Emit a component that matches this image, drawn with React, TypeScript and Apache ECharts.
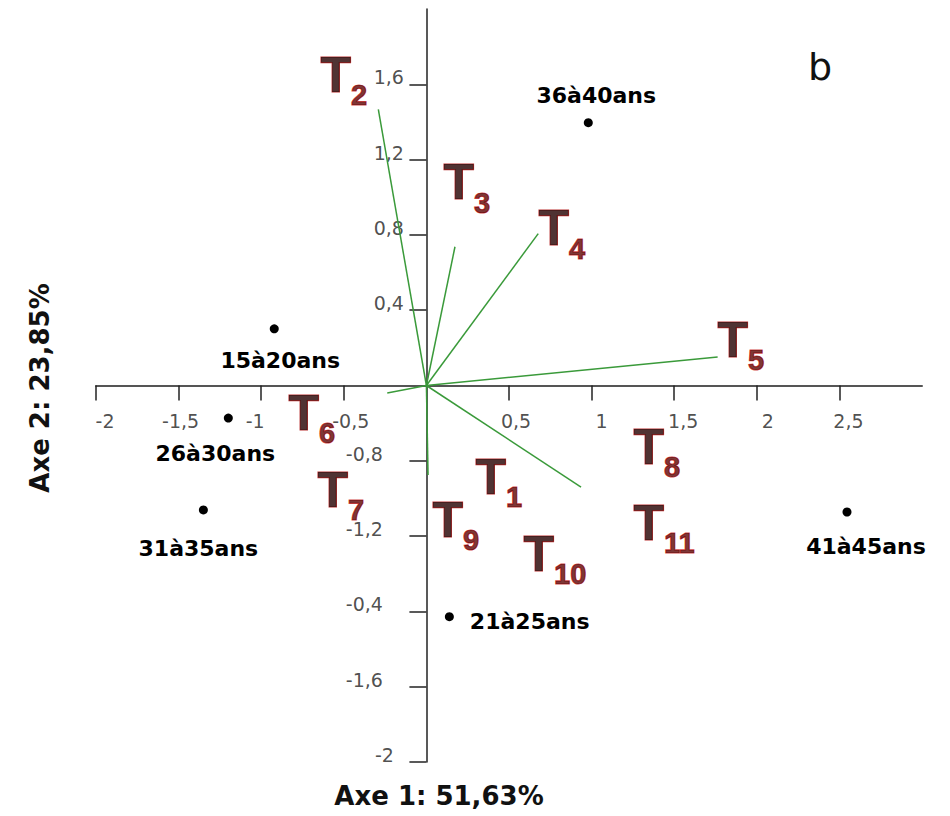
import React, { useEffect, useRef } from "react";
import * as echarts from "echarts";

// ---- axis ticks ----
const xTickValues = [-2, -1.5, -1, -0.5, 0.5, 1, 1.5, 2, 2.5];
const xTickLabels = ["-2", "-1,5", "-1", "-0,5", "0,5", "1", "1,5", "2", "2,5"];
const yTickValues = [-2, -1.6, -1.2, -0.8, -0.4, 0.4, 0.8, 1.2, 1.6];
const yTickLabels = ["-2", "-1,6", "-0,4", "-1,2", "-0,8", "0,4", "0,8", "1,2", "1,6"];

// ---- age groups (points) ----
const groupNames = ["15à20ans", "21à25ans", "26à30ans", "31à35ans", "36à40ans", "41à45ans"];
const groupX = [-0.921, 0.139, -1.199, -1.35, 0.98, 2.546];
const groupY = [0.301, -1.228, -0.173, -0.661, 1.396, -0.672];

// ---- variable vectors ----
const vectorX = [-0.291, 0.173, 0.677, 1.763, 0.936, 0.01, -0.237];
const vectorY = [1.467, 0.737, 0.807, 0.152, -0.54, -0.475, -0.04];

// ---- T labels ----
const termNumbers = ["1", "2", "3", "4", "5", "6", "7", "8", "9", "10", "11"];
const termX = [0.294, -0.644, 0.1, 0.676, 1.759, -0.838, -0.662, 1.251, 0.034, 0.585, 1.251];
const termY = [-0.485, 1.651, 1.079, 0.836, 0.244, -0.145, -0.554, -0.325, -0.714, -0.895, -0.73];

// ---- styling (label placement) ----
const groupLabelPlacement: any[] = [
  { position: "inside", offset: [6, 32] },
  { position: "right", distance: 16, offset: [0, 5] },
  { position: "inside", offset: [-13, 35] },
  { position: "inside", offset: [-5, 39] },
  { position: "inside", offset: [8, -27] },
  { position: "inside", offset: [19, 34] },
];
const xLabelDx = [9, 2, -6, 7, 7, 10, 9, 11, 9];
const yLabelDx = [-10, -21, -21, -21, -21, 0, 0, 0, 0];

const tickFont = { fontFamily: "DejaVu Sans", fontSize: 19, color: "#222" };

export default function App() {
  const ref = useRef<HTMLDivElement>(null);
  useEffect(() => {
    if (!ref.current) return;
    const chart = echarts.init(ref.current, undefined, { renderer: "svg" });
    const option: any = {
      animation: false,
      backgroundColor: "#fff",
      grid: { left: 96, right: 28, top: 9, bottom: 54, outerBoundsMode: "none" },
      xAxis: {
        type: "value",
        min: -2,
        max: 3,
        interval: 0.5,
        splitLine: { show: false },
        axisLine: { onZero: true, lineStyle: { color: "#555", width: 2 } },
        axisTick: { show: true, length: 15, customValues: xTickValues, lineStyle: { color: "#222", width: 1.5 } },
        axisLabel: { show: false },
      },
      yAxis: {
        type: "value",
        min: -2,
        max: 2,
        interval: 0.4,
        splitLine: { show: false },
        axisLine: { onZero: true, lineStyle: { color: "#222", width: 1.5 } },
        axisTick: { show: true, length: 17, customValues: yTickValues, lineStyle: { color: "#222", width: 1.5 } },
        axisLabel: { show: false },
      },
      series: [
        {
          type: "scatter",
          silent: true,
          z: 2,
          symbolSize: 1,
          itemStyle: { color: "rgba(0,0,0,0)" },
          data: xTickValues.map((v, i) => ({
            value: [v, 0],
            name: xTickLabels[i],
            label: { offset: [xLabelDx[i], 35] },
          })),
          label: {
            show: true,
            position: "inside",
            formatter: (p: any) => p.name,
            ...tickFont,
          },
        },
        {
          type: "scatter",
          silent: true,
          z: 2,
          symbolSize: 1,
          itemStyle: { color: "rgba(0,0,0,0)" },
          data: yTickValues.map((v, i) => ({
            value: [0, v],
            name: yTickLabels[i],
            label: { offset: [yLabelDx[i], -7] },
          })),
          label: {
            show: true,
            position: "left",
            distance: 22,
            formatter: (p: any) => p.name,
            ...tickFont,
          },
        },
        {
          type: "lines",
          coordinateSystem: "cartesian2d",
          silent: true,
          z: 3,
          lineStyle: { color: "#3a9a3a", width: 1.5, opacity: 1 },
          data: vectorX.map((x, i) => ({ coords: [[0, 0], [x, vectorY[i]]] })),
        },
        {
          type: "scatter",
          silent: true,
          z: 4,
          symbolSize: 9,
          itemStyle: { color: "#000", opacity: 1 },
          data: groupX.map((x, i) => ({
            value: [x, groupY[i]],
            name: groupNames[i],
            label: { ...groupLabelPlacement[i] },
          })),
          label: {
            show: true,
            formatter: (p: any) => p.name,
            fontFamily: "DejaVu Sans",
            fontWeight: "bold",
            fontSize: 22,
            color: "#000",
          },
        },
        {
          type: "scatter",
          silent: true,
          z: 6,
          symbolSize: 1,
          itemStyle: { color: "rgba(0,0,0,0)" },
          data: termX.map((x, i) => ({
            value: [x, termY[i]],
            label: { formatter: `{t|T}{s|${termNumbers[i]}}` },
          })),
          label: {
            show: true,
            position: "right",
            distance: 0,
            rich: {
              t: {
                fontFamily: "Liberation Sans",
                fontWeight: "bold",
                fontSize: 50,
                color: "#240000",
                textBorderColor: "#a80000",
                textBorderWidth: 1.2,
                lineHeight: 70,
                verticalAlign: "middle",
              },
              s: {
                fontFamily: "Liberation Sans",
                fontWeight: "bold",
                fontSize: 29,
                color: "#5a0000",
                textBorderColor: "#c81414",
                textBorderWidth: 1.2,
                lineHeight: 28,
                verticalAlign: "bottom",
              },
            },
          },
        },
      ],
      graphic: [
        {
          type: "text",
          x: 439,
          y: 796,
          style: {
            text: "Axe 1: 51,63%",
            align: "center",
            verticalAlign: "middle",
            fontFamily: "DejaVu Sans",
            fontWeight: "bold",
            fontSize: 26,
            fill: "#111",
          },
        },
        {
          type: "text",
          x: 40,
          y: 388,
          rotation: Math.PI / 2,
          style: {
            text: "Axe 2: 23,85%",
            align: "center",
            verticalAlign: "middle",
            fontFamily: "DejaVu Sans",
            fontWeight: "bold",
            fontSize: 26,
            fill: "#111",
          },
        },
        {
          type: "text",
          x: 820,
          y: 67,
          style: {
            text: "b",
            align: "center",
            verticalAlign: "middle",
            fontFamily: "DejaVu Sans",
            fontSize: 38,
            fill: "#111",
          },
        },
      ],
    };
    chart.setOption(option);
    return () => chart.dispose();
  }, []);
  return (
    <div
      ref={ref}
      style={{ position: "absolute", left: 0, top: 0, width: 950, height: 816 }}
    />
  );
}
